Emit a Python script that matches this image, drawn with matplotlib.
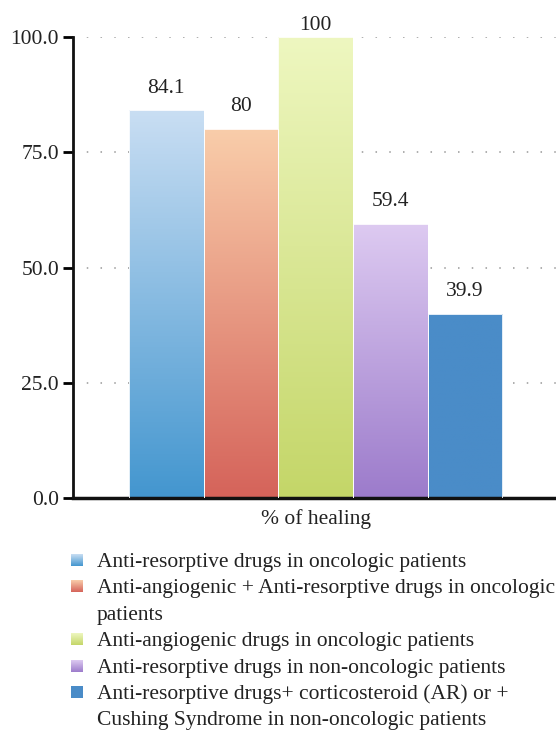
import numpy as np
import matplotlib.pyplot as plt
from matplotlib.colors import LinearSegmentedColormap
from matplotlib.patches import Rectangle

plt.rcParams['font.family'] = ['Liberation Serif', 'DejaVu Serif']

# data
labels = [
    'Anti-resorptive drugs in oncologic patients',
    'Anti-angiogenic + Anti-resorptive drugs in oncologic\npatients',
    'Anti-angiogenic drugs in oncologic patients',
    'Anti-resorptive drugs in non-oncologic patients',
    'Anti-resorptive drugs+ corticosteroid (AR) or +\nCushing Syndrome in non-oncologic patients',
]
values = [84.1, 80, 100, 59.4, 39.9]
value_text = ['84.1', '80', '100', '59.4', '39.9']
category = '% of healing'
yticks = [0, 25, 50, 75, 100]

# gradient colours, top -> bottom
top_colors = ['#c9def3', '#f9cdaa', '#eef7c0', '#ddcaf1', '#4a8cc8']
bottom_colors = ['#4396cf', '#d5635a', '#c4d668', '#9c7bcb', '#4a8cc8']

fs = 15.5
txt_color = '#222222'

fig = plt.figure(figsize=(5.56, 7.30), dpi=100)
ax = fig.add_axes([0.1313, 0.3178, 0.8687, 0.6315])

x = np.arange(len(values)) - 2
bars = ax.bar(x, values, width=1.0, color='none', edgecolor='none', zorder=2)

grad = np.linspace(0, 1, 256).reshape(-1, 1)
for b, c1, c2 in zip(bars, top_colors, bottom_colors):
    cmap = LinearSegmentedColormap.from_list('g', [c2, c1])
    x0, w, h = b.get_x(), b.get_width(), b.get_height()
    im = ax.imshow(grad, cmap=cmap, extent=(x0, x0 + w, 0, h),
                   origin='lower', aspect='auto', zorder=2)
    im.set_clip_path(b)
    ax.add_patch(Rectangle((x0, 0), w, h, facecolor='none',
                           edgecolor='white', linewidth=0.6, zorder=3))

for xi, v, t in zip(x, values, value_text):
    off = 8 if v >= 100 else 16
    ax.annotate(t, (xi, v), xytext=(0, off), textcoords='offset points',
                ha='center', va='center', fontsize=fs, color=txt_color)

ax.set_xlim(-3.25, 3.22)
ax.set_ylim(0, 100)
ax.set_yticks(yticks)
ax.set_yticklabels(['%.1f' % t for t in yticks], fontsize=fs, color=txt_color)
ax.tick_params(axis='y', length=7, width=2, direction='out', pad=3)
ax.set_xticks([0])
ax.set_xticklabels([category], fontsize=fs, color=txt_color)
ax.tick_params(axis='x', length=0, pad=8)

ax.yaxis.grid(True, linestyle=(0, (1, 8)), color='#999999', linewidth=1.1)
ax.set_axisbelow(True)
for s in ['top', 'right']:
    ax.spines[s].set_visible(False)
ax.spines['left'].set_linewidth(2)
ax.spines['bottom'].set_linewidth(2.5)
ax.spines['bottom'].set_color('#111111')
ax.spines['left'].set_color('#111111')

# legend drawn by hand so markers sit on the first line
W, H = 556.0, 730.0
line_h = 26.4
y = 560.0
for lab, c1, c2 in zip(labels, top_colors, bottom_colors):
    sq = fig.add_axes([71 / W, 1 - (y + 6) / H, 12 / W, 12 / H])
    cmap = LinearSegmentedColormap.from_list('g', [c2, c1])
    sq.imshow(grad, cmap=cmap, origin='lower', aspect='auto')
    sq.axis('off')
    for part in lab.split('\n'):
        fig.text(97 / W, 1 - y / H, part, fontsize=fs, color=txt_color,
                 va='center_baseline', ha='left')
        y += line_h

fig.savefig('out.png', dpi=100)
